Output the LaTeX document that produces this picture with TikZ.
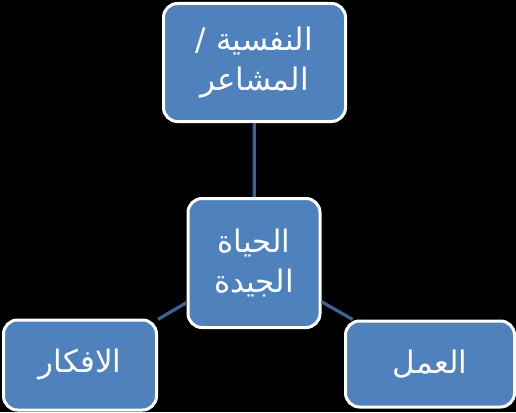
\documentclass[tikz,border=0pt]{standalone}
\usepackage{fontspec}
\newfontfamily\arabicfont[Script=Arabic]{DejaVu Sans}
\TeXXeTstate=1
\definecolor{boxblue}{RGB}{79,129,189}
\definecolor{linkblue}{RGB}{62,98,148}
\tikzset{
  box/.style={draw=white, line width=3pt, fill=boxblue, rounded corners=14pt,
    text=white, font=\arabicfont\fontsize{31}{40}\selectfont, align=center, inner sep=0pt},
  link/.style={draw=linkblue, line width=3.2pt}
}
\begin{document}
\begin{tikzpicture}[x=1pt,y=-1pt]
\fill[black] (0,0) rectangle (516,412);
\useasboundingbox (0,0) rectangle (516,412);
\node[box, minimum width=182pt, minimum height=118pt] (top) at (254.5,62.5)
  {\beginR النفسية /\endR\\\beginR المشاعر\endR};
\node[box, minimum width=132pt, minimum height=129pt] (mid) at (254,263)
  {\beginR الحياة\endR\\\beginR الجيدة\endR};
\node[box, minimum width=153pt, minimum height=90pt] (left) at (80,365)
  {\beginR الافكار\endR};
\node[box, minimum width=169pt, minimum height=86pt] (right) at (430,364)
  {\beginR العمل\endR};
\draw[link] (top) -- (mid);
\draw[link] (mid) -- (left);
\draw[link] (mid) -- (right);
\end{tikzpicture}
\end{document}
